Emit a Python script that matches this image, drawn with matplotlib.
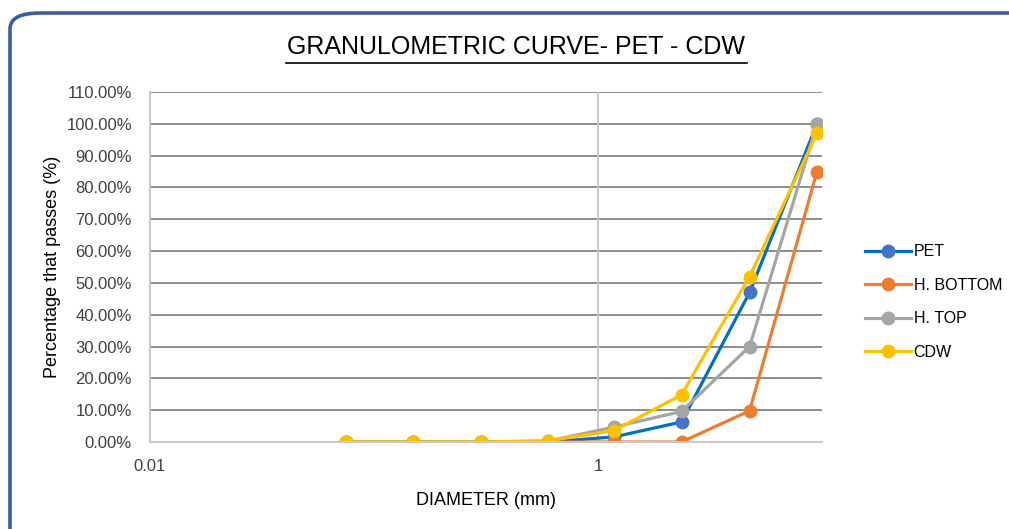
import matplotlib
matplotlib.use("Agg")
import matplotlib.pyplot as plt
from matplotlib.patches import FancyBboxPatch
from matplotlib.lines import Line2D
from matplotlib.ticker import FuncFormatter, FixedLocator, NullLocator

plt.rcParams['font.family'] = ['Liberation Sans Narrow', 'Liberation Sans', 'DejaVu Sans']

# sieve openings (mm)
diameter = [0.075, 0.15, 0.3, 0.6, 1.18, 2.36, 4.75, 9.5]

# percentage passing
pet = [0, 0, 0, 0, 1.6, 6.3, 47, 100]
h_bottom = [0, 0, 0, 0, 0, 0, 9.8, 85]
h_top = [0, 0, 0, 0.3, 4.7, 9.6, 30, 100]
cdw = [0, 0, 0, 0.4, 3.6, 14.8, 52, 97]

series = [("PET", pet, "#0070C0", "#4472C4"),
          ("H. BOTTOM", h_bottom, "#ED7D31", "#ED7D31"),
          ("H. TOP", h_top, "#A5A5A5", "#A5A5A5"),
          ("CDW", cdw, "#FFC000", "#FFC000")]

fig = plt.figure(figsize=(10.09, 5.29), dpi=100)

# rounded frame around the chart
frame = FancyBboxPatch((10/1009, -20/529), 1040/1009, 536/529,
                       boxstyle="round,pad=0,rounding_size=0.03",
                       transform=fig.transFigure, fill=False,
                       edgecolor="#3A5DA0", linewidth=2.6, mutation_aspect=529/1009*1.9)
fig.add_artist(frame)

ax = fig.add_axes([150/1009, 87/529, 672/1009, 350/529])

for name, vals, lc, mc in series:
    ax.plot(diameter, vals, color=lc, lw=2.3, marker="o", markersize=9,
            markerfacecolor=mc, markeredgecolor=mc, label=name)

ax.set_xscale("log")
ax.set_xlim(0.01, 10)
ax.set_ylim(0, 110)
ax.xaxis.set_major_locator(FixedLocator([0.01, 1]))
ax.xaxis.set_minor_locator(NullLocator())
ax.xaxis.set_major_formatter(FuncFormatter(lambda v, p: "%g" % v))
ax.set_yticks(range(0, 111, 10))
ax.yaxis.set_major_formatter(FuncFormatter(lambda v, p: "%.2f%%" % v))
ax.tick_params(length=0, labelsize=12, colors="#404040")
ax.tick_params(axis="y", pad=13)
ax.tick_params(axis="x", pad=12)

for y in range(10, 111, 10):
    ax.axhline(y, color="#8C8C8C", lw=1.4, zorder=0)
ax.axvline(1, color="#C8C8C8", lw=1.4, zorder=0)
for s in ["top", "right"]:
    ax.spines[s].set_visible(False)
ax.spines["left"].set_color("#C8C8C8")
ax.spines["bottom"].set_color("#C8C8C8")
ax.spines["left"].set_linewidth(1.4)
ax.spines["bottom"].set_linewidth(1.4)

ax.set_xlabel("DIAMETER (mm)", fontsize=13, color="black", labelpad=13)
ax.set_ylabel("Percentage that passes (%)", fontsize=13, color="black", labelpad=4)

leg = ax.legend(loc="center left", bbox_to_anchor=(1.064, 0.40), frameon=False,
                fontsize=11.5, handlelength=2.9, handletextpad=0.15, labelspacing=1.15,
                borderpad=0, borderaxespad=0)

fig.text(516/1009, 1 - 47/529, "GRANULOMETRIC CURVE- PET - CDW", ha="center", va="center",
         fontsize=18, color="black")
fig.add_artist(Line2D([286/1009, 747/1009], [1 - 63/529, 1 - 63/529], color="black", lw=1.2))

fig.savefig("out.png", dpi=100)
